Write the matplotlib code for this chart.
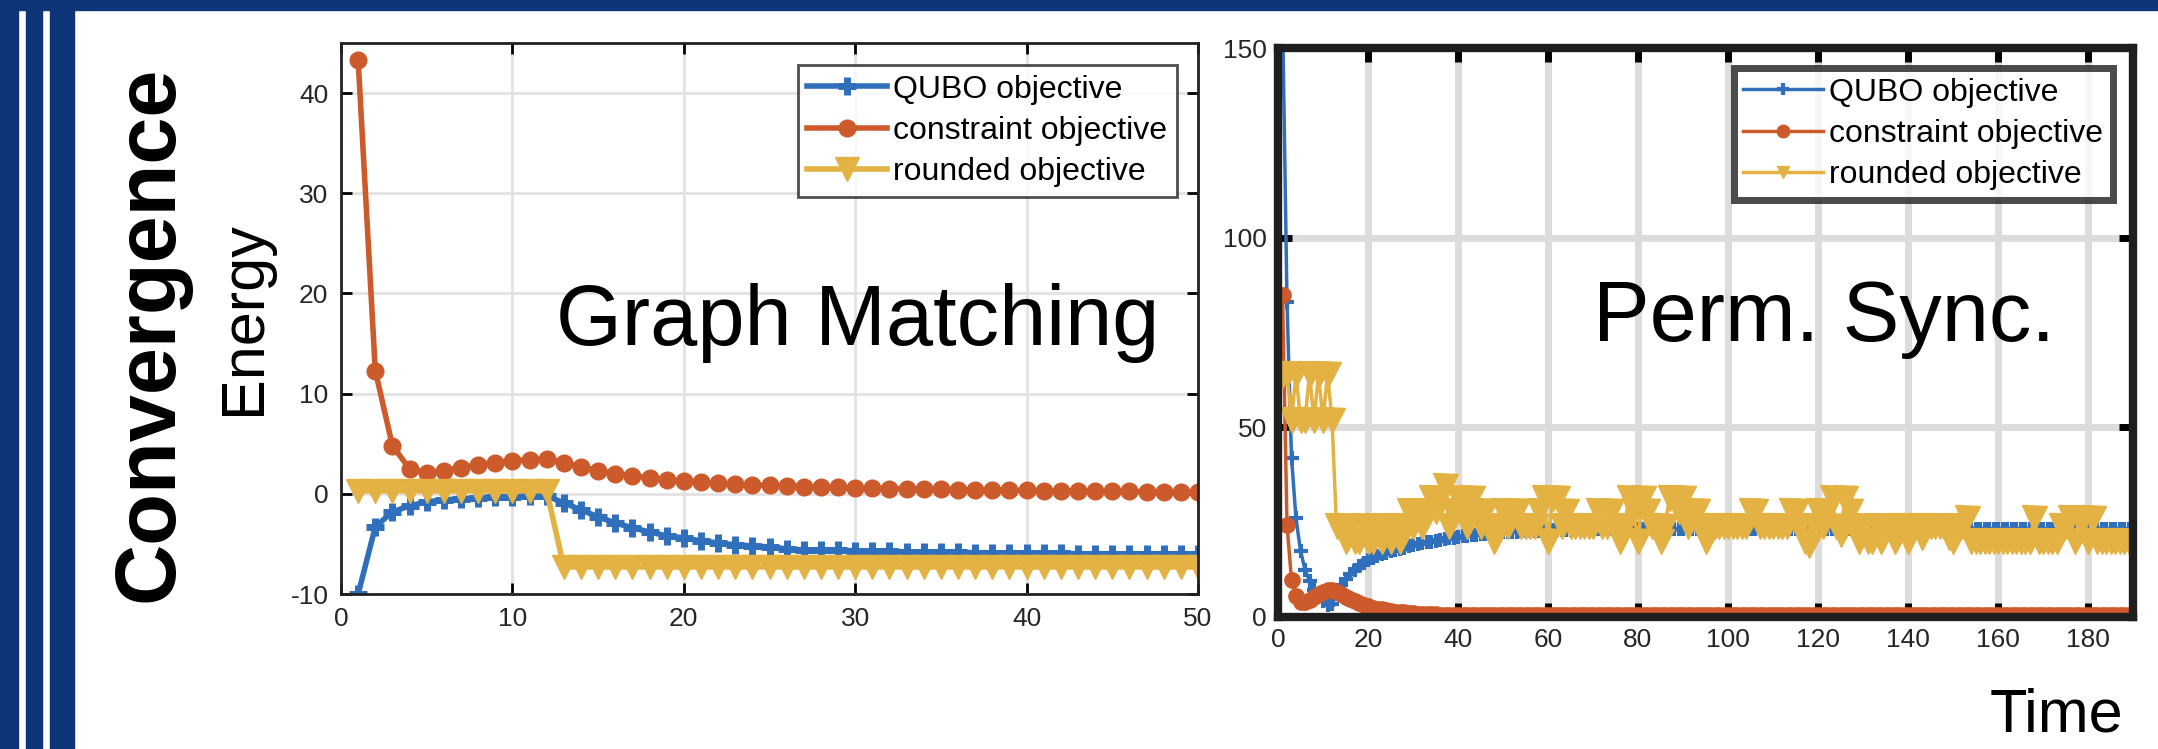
import numpy as np
import matplotlib
matplotlib.use("Agg")
import matplotlib.pyplot as plt
from matplotlib.patches import Rectangle

plt.rcParams["font.family"] = ["Liberation Sans", "DejaVu Sans"]
plt.rcParams["axes.unicode_minus"] = False

# Graph Matching, 50 iterations
gm_qubo = [-10.0, -3.3, -1.8, -1.2, -0.8, -0.6, -0.5, -0.4, -0.3, -0.3,
           -0.2, -0.2, -0.9, -1.6, -2.3, -2.9, -3.4, -3.8, -4.2, -4.4,
           -4.7, -4.9, -5.1, -5.2, -5.3, -5.5, -5.6, -5.6, -5.6, -5.7,
           -5.7, -5.7, -5.8, -5.8, -5.8, -5.8, -5.9, -5.9, -5.9, -5.9,
           -5.9, -5.9, -6.0, -6.0, -6.0, -6.0, -6.0, -6.0, -6.0, -6.0]
gm_constraint = [43.3, 12.3, 4.8, 2.5, 2.1, 2.3, 2.6, 2.9, 3.1, 3.3,
                 3.4, 3.5, 3.1, 2.7, 2.3, 2.0, 1.8, 1.6, 1.4, 1.25,
                 1.15, 1.05, 0.97, 0.9, 0.84, 0.78, 0.73, 0.68, 0.64, 0.6,
                 0.56, 0.53, 0.5, 0.47, 0.45, 0.42, 0.4, 0.38, 0.36, 0.34,
                 0.32, 0.3, 0.29, 0.27, 0.26, 0.24, 0.23, 0.22, 0.21, 0.2]
gm_rounded = [0.3, 0.3, 0.3, 0.3, 0.3, 0.3, 0.3, 0.3, 0.3, 0.3,
              0.3, 0.3, -7.3, -7.3, -7.3, -7.3, -7.3, -7.3, -7.3, -7.3,
              -7.3, -7.3, -7.3, -7.3, -7.3, -7.3, -7.3, -7.3, -7.3, -7.3,
              -7.3, -7.3, -7.3, -7.3, -7.3, -7.3, -7.3, -7.3, -7.3, -7.3,
              -7.3, -7.3, -7.3, -7.3, -7.3, -7.3, -7.3, -7.3, -7.3, -7.3]

# Perm. Sync., 190 iterations
ps_qubo = [160, 83, 42, 26, 17.5, 12.5, 9.5, 7.2, 5.5, 4.2,
           3.2, 3.5, 6.0, 8.5, 10.0, 11.3, 12.4, 13.4, 14.2, 14.9,
           15.5, 16.0, 16.5, 16.9, 17.3, 17.7, 18.0, 18.3, 18.6, 18.9,
           19.2, 19.5, 19.7, 19.9, 20.1, 20.3, 20.5, 20.7, 20.9, 21.1,
           21.3, 21.4, 21.5, 21.7, 21.8, 21.9, 22.0, 22.1, 22.2, 22.3,
           22.4, 22.5, 22.5, 22.6, 22.6, 22.7, 22.7, 22.8, 22.8, 22.9,
           22.9, 22.9, 23.0, 23.0, 23.0, 23.0, 23.1, 23.1, 23.1, 23.1,
           23.1, 23.1, 23.2, 23.2, 23.2, 23.2, 23.2, 23.2, 23.2, 23.2,
           23.2, 23.2, 23.2, 23.2, 23.2, 23.2, 23.2, 23.2, 23.2, 23.2,
           23.2, 23.2, 23.2, 23.2, 23.2, 23.2, 23.2, 23.2, 23.2, 23.2,
           23.2, 23.2, 23.2, 23.2, 23.2, 23.2, 23.2, 23.2, 23.2, 23.2,
           23.2, 23.2, 23.2, 23.2, 23.2, 23.2, 23.2, 23.2, 23.2, 23.2,
           23.2, 23.2, 23.2, 23.2, 23.2, 23.2, 23.2, 23.2, 23.2, 23.2,
           23.2, 23.2, 23.2, 23.2, 23.2, 23.2, 23.2, 23.2, 23.2, 23.2,
           23.2, 23.2, 23.2, 23.2, 23.2, 23.2, 23.2, 23.2, 23.2, 23.2,
           23.2, 23.2, 23.2, 23.2, 23.2, 23.2, 23.2, 23.2, 23.2, 23.2,
           23.2, 23.2, 23.2, 23.2, 23.2, 23.2, 23.2, 23.2, 23.2, 23.2,
           23.2, 23.2, 23.2, 23.2, 23.2, 23.2, 23.2, 23.2, 23.2, 23.2,
           23.2, 23.2, 23.2, 23.2, 23.2, 23.2, 23.2, 23.2, 23.2, 23.2]
ps_constraint = [85, 24.3, 9.8, 5.5, 4.0, 3.9, 4.5, 5.3, 6.0, 6.6,
                 7.0, 7.0, 6.6, 6.0, 5.3, 4.7, 4.1, 3.6, 3.2, 2.8,
                 2.5, 2.2, 2.0, 1.8, 1.6, 1.4, 1.3, 1.2, 1.1, 1.0,
                 0.9, 0.85, 0.8, 0.75, 0.7, 0.65, 0.6, 0.55, 0.5, 0.5,
                 0.48, 0.47, 0.46, 0.45, 0.44, 0.43, 0.42, 0.42, 0.41, 0.41,
                 0.4, 0.4, 0.4, 0.4, 0.4, 0.4, 0.4, 0.4, 0.4, 0.4,
                 0.4, 0.4, 0.4, 0.4, 0.4, 0.4, 0.4, 0.4, 0.4, 0.4,
                 0.4, 0.4, 0.4, 0.4, 0.4, 0.4, 0.4, 0.4, 0.4, 0.4,
                 0.4, 0.4, 0.4, 0.4, 0.4, 0.4, 0.4, 0.4, 0.4, 0.4,
                 0.4, 0.4, 0.4, 0.4, 0.4, 0.4, 0.4, 0.4, 0.4, 0.4,
                 0.4, 0.4, 0.4, 0.4, 0.4, 0.4, 0.4, 0.4, 0.4, 0.4,
                 0.4, 0.4, 0.4, 0.4, 0.4, 0.4, 0.4, 0.4, 0.4, 0.4,
                 0.4, 0.4, 0.4, 0.4, 0.4, 0.4, 0.4, 0.4, 0.4, 0.4,
                 0.4, 0.4, 0.4, 0.4, 0.4, 0.4, 0.4, 0.4, 0.4, 0.4,
                 0.4, 0.4, 0.4, 0.4, 0.4, 0.4, 0.4, 0.4, 0.4, 0.4,
                 0.4, 0.4, 0.4, 0.4, 0.4, 0.4, 0.4, 0.4, 0.4, 0.4,
                 0.4, 0.4, 0.4, 0.4, 0.4, 0.4, 0.4, 0.4, 0.4, 0.4,
                 0.4, 0.4, 0.4, 0.4, 0.4, 0.4, 0.4, 0.4, 0.4, 0.4,
                 0.4, 0.4, 0.4, 0.4, 0.4, 0.4, 0.4, 0.4, 0.4, 0.4]
ps_rounded = [64, 64, 52, 64, 52, 52, 64, 52, 64, 52,
              64, 52, 24, 24, 20, 24, 20, 20, 24, 20,
              20, 24, 20, 24, 20, 24, 20, 24, 28, 24,
              28, 24, 28, 31.5, 28, 31.5, 34.5, 24, 28, 31.5,
              28, 24, 31.5, 28, 24, 28, 24, 20, 24, 28,
              24, 28, 28, 24, 24, 24, 24, 28, 31.5, 20,
              31.5, 31.5, 24, 28, 24, 24, 24, 24, 24, 24,
              28, 24, 24, 28, 24, 20, 24, 31.5, 28, 20,
              31.5, 28, 24, 24, 20, 24, 31.5, 31.5, 28, 31.5,
              24, 28, 28, 24, 20, 24, 24, 24, 24, 24,
              24, 24, 24, 24, 28, 28, 24, 24, 24, 24,
              24, 24, 24, 28, 28, 24, 20, 19, 24, 28,
              24, 28, 31.5, 24, 22, 31.5, 28, 24, 20, 24,
              20, 20, 24, 20, 24, 24, 20, 24, 24, 20,
              24, 24, 21, 24, 24, 24, 24, 24, 21, 20,
              24, 24, 26, 20, 20, 20, 20, 20, 20, 20,
              20, 20, 20, 20, 20, 20, 20, 26, 20, 20,
              20, 20, 20, 24, 24, 26, 20, 26, 26, 20,
              26, 20, 20, 20, 20, 20, 20, 20, 20, 20]

labels = ["QUBO objective", "constraint objective", "rounded objective"]
gm_xticks = [0, 10, 20, 30, 40, 50]
gm_yticks = [-10, 0, 10, 20, 30, 40]
ps_xticks = [0, 20, 40, 60, 80, 100, 120, 140, 160, 180]
ps_yticks = [0, 50, 100, 150]

blue = "#2f6fbb"
orange = "#cc5a2b"
yellow = "#e4b243"
navy = "#0b3577"
tick_col = "#262626"

fig = plt.figure(figsize=(21.58, 7.49), dpi=100)
fig.patch.set_facecolor("white")

# navy frame strips on the left and top
for x0, w in [(0, 18), (26, 16), (50, 24)]:
    fig.patches.append(Rectangle((x0 / 2158, 0), w / 2158, 1, transform=fig.transFigure,
                                 color=navy, zorder=0))
fig.patches.append(Rectangle((0, 1 - 10 / 749), 1, 10 / 749, transform=fig.transFigure,
                             color=navy, zorder=0))

# ---- Graph Matching ----
ax1 = fig.add_axes([341 / 2158, 155 / 749, 857 / 2158, 551 / 749])
l1, = ax1.plot(np.arange(1, len(gm_qubo) + 1), gm_qubo, color=blue, lw=4, marker="+", ms=13, mew=5)
l2, = ax1.plot(np.arange(1, len(gm_constraint) + 1), gm_constraint, color=orange, lw=4,
               marker="o", ms=12)
l3, = ax1.plot(np.arange(1, len(gm_rounded) + 1), gm_rounded, color=yellow, lw=4,
               marker="v", ms=17)
ax1.set_xlim(0, 50)
ax1.set_ylim(-10, 45)
ax1.set_xticks(gm_xticks)
ax1.set_yticks(gm_yticks)
ax1.grid(True, color="#e2e2e2", lw=2)
ax1.set_axisbelow(True)
ax1.tick_params(direction="in", top=True, right=True, length=8, width=2,
                labelsize=19, labelcolor=tick_col, pad=9)
for s in ax1.spines.values():
    s.set_linewidth(2)
    s.set_color("#222222")
leg1 = ax1.legend([l1, l2, l3], labels, loc="upper right", bbox_to_anchor=(1177 / 2158, 1 - 65 / 749),
                  bbox_transform=fig.transFigure, borderaxespad=0, fontsize=23, fancybox=False,
                  edgecolor="#222222", handlelength=2.5, handletextpad=0.2, labelspacing=0.35,
                  borderpad=0.3, numpoints=1)
leg1.get_frame().set_linewidth(2)

# ---- Perm. Sync. ----
ax2 = fig.add_axes([1278 / 2158, 132 / 749, 855 / 2158, 569 / 749])
m1, = ax2.plot(np.arange(1, len(ps_qubo) + 1), ps_qubo, color=blue, lw=2.5, marker="+", ms=10, mew=3)
m2, = ax2.plot(np.arange(1, len(ps_constraint) + 1), ps_constraint, color=orange, lw=2.5,
               marker="o", ms=11)
m3, = ax2.plot(np.arange(1, len(ps_rounded) + 1), ps_rounded, color=yellow, lw=2.5,
               marker="v", ms=18)
ax2.set_xlim(0, 190)
ax2.set_ylim(0, 150)
ax2.set_xticks(ps_xticks)
ax2.set_yticks(ps_yticks)
ax2.grid(True, color="#dcdcdc", lw=5)
ax2.set_axisbelow(True)
ax2.tick_params(direction="in", top=True, right=True, length=10, width=5,
                labelsize=19, labelcolor=tick_col, pad=8)
for s in ax2.spines.values():
    s.set_linewidth(6)
    s.set_color("#1e1e1e")
leg2 = ax2.legend([m1, m2, m3], labels, loc="upper right", bbox_to_anchor=(2113 / 2158, 1 - 68 / 749),
                  bbox_transform=fig.transFigure, borderaxespad=0, fontsize=23, fancybox=False,
                  edgecolor="#1e1e1e", handlelength=2.5, handletextpad=0.2, labelspacing=0.35,
                  borderpad=0.3, numpoints=1)
leg2.get_frame().set_linewidth(5)
for h in leg2.get_lines():
    h.set_markersize(9)

# ---- texts ----
fig.text(150 / 2158, 1 - 334 / 749, "Convergence", rotation=90, fontsize=61, fontweight="bold",
         ha="center", va="center")
fig.text(244 / 2158, 1 - 318 / 749, "Energy", rotation=90, fontsize=44, ha="center", va="center")
fig.text(858 / 2158, 1 - 345 / 749, "Graph Matching", fontsize=61, ha="center", va="baseline")
fig.text(1824 / 2158, 1 - 341 / 749, "Perm. Sync.", fontsize=61, ha="center", va="baseline")
fig.text(2056 / 2158, 1 - 732 / 749, "Time", fontsize=44, ha="center", va="baseline")

fig.savefig("out.png", dpi=100)
